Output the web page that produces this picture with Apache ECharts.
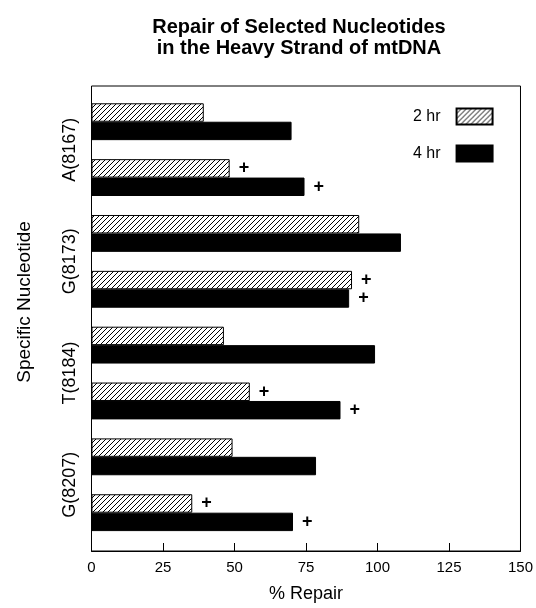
<!DOCTYPE html>
<html>
<head>
<meta charset="utf-8">
<script src="https://cdn.jsdelivr.net/npm/echarts@6/dist/echarts.min.js"></script>
<style>
html,body{margin:0;padding:0;background:#fff;}
#chart{width:536px;height:608px;}
</style>
</head>
<body>
<div id="chart"></div>
<script>
// ---- data ----
var nucleotides = ['A(8167)', 'G(8173)', 'T(8184)', 'G(8207)'];
var rows = ['A(8167) i', 'A(8167) ii', 'G(8173) i', 'G(8173) ii', 'T(8184) i', 'T(8184) ii', 'G(8207) i', 'G(8207) ii'];
var repair2hr = [39, 48, 93, 90.5, 46, 55, 49, 35];
var repair4hr = [69.5, 74, 107.5, 89.5, 98.5, 86.5, 78, 70];
var sig2hr = [0, 1, 0, 1, 0, 1, 0, 1];
var sig4hr = [0, 1, 0, 1, 0, 1, 0, 1];
var xTicks = [0, 25, 50, 75, 100, 125, 150];

var FONT = '"Liberation Sans", Arial, Helvetica, sans-serif';

// hatch pattern "/"
var pc = document.createElement('canvas');
pc.width = 5; pc.height = 5;
var g = pc.getContext('2d');
g.fillStyle = '#fff'; g.fillRect(0, 0, 5, 5);
g.strokeStyle = '#000'; g.lineWidth = 1;
g.beginPath();
g.moveTo(-1, 6); g.lineTo(6, -1);
g.moveTo(-1, 1); g.lineTo(1, -1);
g.moveTo(4, 6); g.lineTo(6, 4);
g.stroke();
var hatch = { image: pc, repeat: 'repeat' };

function withMarks(vals, flags) {
  return vals.map(function (v, i) {
    return flags[i] ? { value: v, label: { show: true } } : v;
  });
}

var plusLabel = {
  show: false, position: 'right', distance: 9, formatter: '+',
  fontFamily: FONT, fontSize: 18, fontWeight: 'bold', color: '#000'
};

var chart = echarts.init(document.getElementById('chart'), null, { renderer: 'canvas' });
chart.setOption({
  backgroundColor: '#fff',
  animation: false,
  title: {
    text: 'Repair of Selected Nucleotides\nin the Heavy Strand of mtDNA',
    left: 294, top: 12, textAlign: 'center',
    textStyle: { fontFamily: FONT, fontSize: 20, fontWeight: 'bold', color: '#000', lineHeight: 21 }
  },
  legend: {
    orient: 'vertical', align: 'right', left: 408, top: 102.5,
    itemWidth: 36, itemHeight: 16, itemGap: 19,
    textStyle: { fontFamily: FONT, fontSize: 16, color: '#000', padding: [0, 11, 0, 0] },
    data: [{ name: '2 hr', icon: 'rect' }, { name: '4 hr', icon: 'rect' }]
  },
  grid: [
    { left: 91.5, right: 12.7, top: 93.8, bottom: 67.4, containLabel: false },
    { left: 91.5, right: 12.7, top: 86, bottom: 52, show: true, borderColor: '#000', borderWidth: 1, backgroundColor: 'transparent', containLabel: false }
  ],
  xAxis: [
    { gridIndex: 0, type: 'value', min: 0, max: 150, show: false },
    {
      gridIndex: 1, type: 'value', min: 0, max: 150, interval: 25,
      name: '% Repair', nameLocation: 'middle', nameGap: 34,
      nameTextStyle: { fontFamily: FONT, fontSize: 18, color: '#000' },
      axisLine: { show: true, lineStyle: { color: '#000', width: 1 } },
      axisTick: { show: true, inside: true, length: 8, lineStyle: { color: '#000' } },
      axisLabel: { fontFamily: FONT, fontSize: 15, color: '#000', margin: 9,
        formatter: function (v) { return xTicks.indexOf(v) >= 0 ? String(v) : ''; } },
      splitLine: { show: false }
    }
  ],
  yAxis: [
    { gridIndex: 0, type: 'category', data: rows, inverse: true, show: false },
    {
      gridIndex: 0, type: 'category', data: nucleotides, inverse: true, position: 'left',
      axisLine: { show: false }, axisTick: { show: false }, splitLine: { show: false },
      axisLabel: { rotate: 90, margin: 12, fontFamily: FONT, fontSize: 18, color: '#000' }
    },
    { gridIndex: 1, type: 'value', min: 0, max: 1, show: false }
  ],
  graphic: [{
    type: 'text', x: 25, y: 302, rotation: Math.PI / 2,
    style: { text: 'Specific Nucleotide', fontFamily: FONT, fontSize: 19, fill: '#000',
      align: 'center', verticalAlign: 'middle' }
  }],
  series: [
    {
      name: '2 hr', type: 'bar', xAxisIndex: 0, yAxisIndex: 0,
      data: withMarks(repair2hr, sig2hr),
      barGap: '0%', barCategoryGap: '34%',
      itemStyle: { color: hatch, borderColor: '#000', borderWidth: 1 },
      label: plusLabel
    },
    {
      name: '4 hr', type: 'bar', xAxisIndex: 0, yAxisIndex: 0,
      data: withMarks(repair4hr, sig4hr),
      barGap: '0%', barCategoryGap: '34%',
      itemStyle: { color: '#000', borderColor: '#000', borderWidth: 1 },
      label: plusLabel
    }
  ]
});
</script>
</body>
</html>
